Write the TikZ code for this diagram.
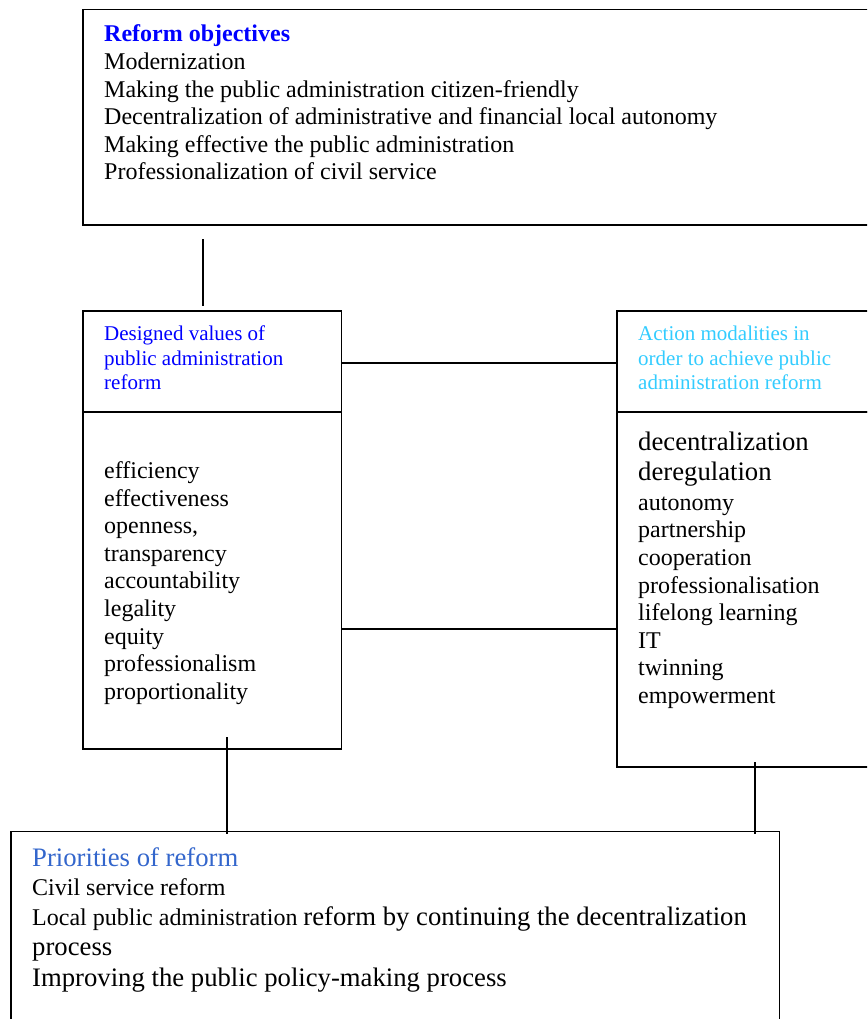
\documentclass[tikz,border=0pt]{standalone}
\usepackage{fontspec}
\setmainfont{Liberation Serif}
\usepackage{xcolor}
\usepackage{tikz}
\usetikzlibrary{positioning}
\definecolor{titleblue}{RGB}{0,0,255}
\definecolor{modcyan}{RGB}{51,204,255}
\definecolor{prioblue}{RGB}{51,102,204}
\newcommand{\fsz}[2]{\fontsize{#1}{#2}\selectfont}
\tikzstyle{box}    = [rectangle, draw=black, line width=1.8pt, anchor=north west, inner sep=0pt, outer sep=0pt]
\tikzstyle{txt}    = [anchor=north west, inner sep=0pt, align=left]
\tikzstyle{link}   = [line width=1.2pt]
\tikzstyle{bridge} = [line width=1.7pt]

\begin{document}
\begin{tikzpicture}[x=1pt, y=-1pt]
    \useasboundingbox (0,0) rectangle (867,1019);
    \clip (0,0) rectangle (867,1019);

    % boxes
    \node (goals)     [box, minimum width=850, minimum height=215.5] at (83,9.5) {};
    \node (valshead)  [box, minimum width=258.5, minimum height=101] at (83,311) {};
    \node (valsbody)  [box, minimum width=258.5, minimum height=337, below=0pt of valshead] {};
    \node (actshead)  [box, minimum width=300, minimum height=101] at (617,311) {};
    \node (actsbody)  [box, minimum width=300, minimum height=355, below=0pt of actshead] {};
    \node (prio)      [box, minimum width=768.5, minimum height=250] at (11,831.5) {};

    % texts
    \node (goalstxt) [txt, font=\fsz{24}{27.6}] at (104,22.4)
        {\strut\textcolor{titleblue}{\bfseries Reform objectives}\\
         Modernization\\
         Making the public administration citizen-friendly\\
         Decentralization of administrative and financial local autonomy\\
         Making effective the public administration\\
         Professionalization of civil service};
    \node (valsheadtxt) [txt, font=\fsz{21}{24.5}, text=titleblue] at (104,323.6)
        {\strut Designed values of\\ public administration\\ reform};
    \node (valsbodytxt) [txt, font=\fsz{24}{27.6}] at (104,459)
        {\strut efficiency\\ effectiveness\\ openness,\\ transparency\\ accountability\\
         legality\\ equity\\ professionalism\\ proportionality};
    \node (actsheadtxt) [txt, font=\fsz{21}{24.5}, text=modcyan] at (638,323.6)
        {\strut Action modalities in\\ order to achieve public\\ administration reform};
    \node (actsbodytxt) [txt, font=\fsz{24}{27.6}] at (638,430.7)
        {\strut{\fsz{26.7}{31}decentralization}\\[3.1pt]
         {\fsz{26.7}{31}deregulation}\\[1.7pt]
         autonomy\\ partnership\\ cooperation\\ professionalisation\\
         lifelong learning\\ IT\\ twinning\\ empowerment};
    \node (priotxt) [txt, font=\fsz{24}{30}] at (32,845)
        {\strut{\color{prioblue}\fsz{26.7}{30}Priorities of reform}\\[-1pt]
         Civil service reform\\
         Local public administration {\fsz{26.7}{30}reform by continuing the decentralization}\\
         {\fsz{26.7}{30}process}\\[1pt]
         {\fsz{26.7}{30}Improving the public policy-making process}};

    % connectors
    \coordinate (gfoot) at (203,239);
    \coordinate (vtop)  at (203,306);
    \coordinate (vfoot) at (227,737);
    \coordinate (afoot) at (755,762);
    \draw [link]   (gfoot) -- (vtop);
    \draw [bridge] (valshead.east |- 0,363.3) -- (actshead.west |- 0,363.3);
    \draw [bridge] (valsbody.east |- 0,629.3) -- (actsbody.west |- 0,629.3);
    \draw [link, shorten >=-2.5pt] (vfoot) -- (vfoot |- prio.north);
    \draw [link, shorten >=-2.5pt] (afoot) -- (afoot |- prio.north);
\end{tikzpicture}
\end{document}
